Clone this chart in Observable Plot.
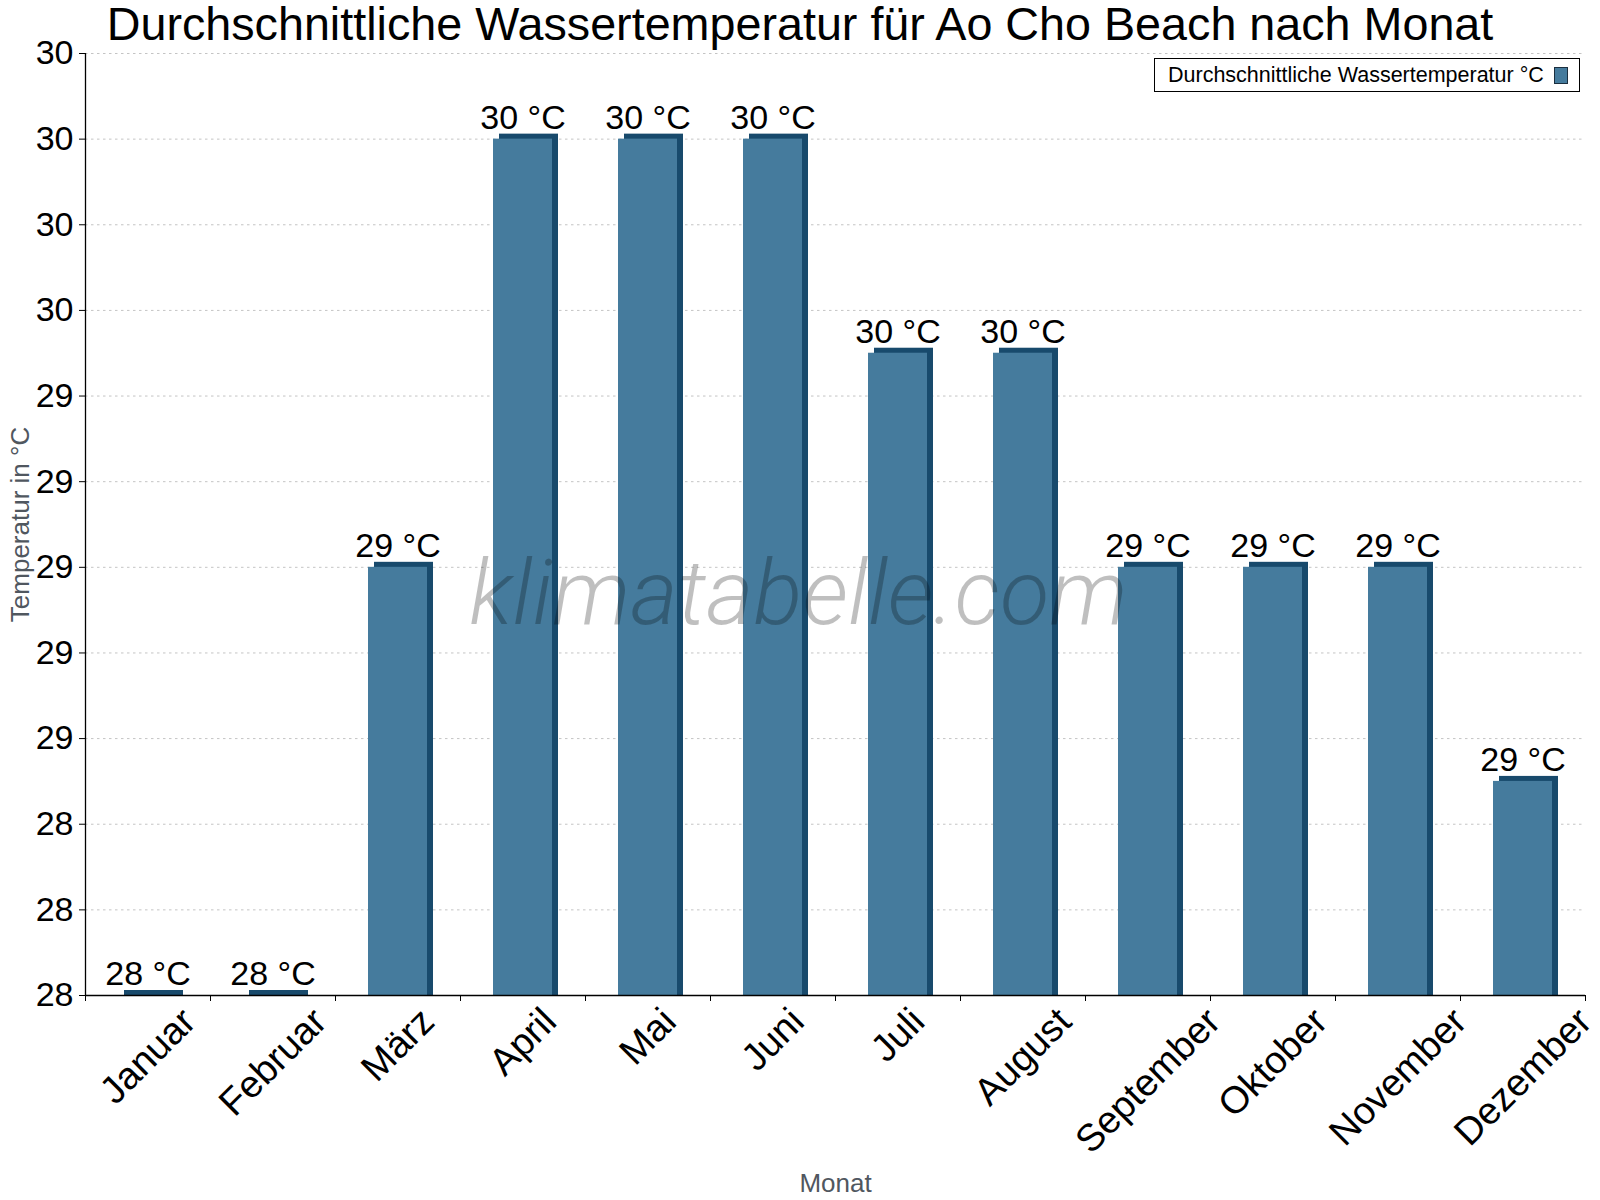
<!DOCTYPE html>
<html>
<head>
<meta charset="utf-8">
<script src="https://cdn.jsdelivr.net/npm/d3@7"></script>
<script src="https://cdn.jsdelivr.net/npm/@observablehq/plot@0.6"></script>
<style>
  html, body { margin: 0; padding: 0; background: #fff; }
  #wrap { position: relative; width: 1600px; height: 1200px; font-family: "Liberation Sans", Arial, sans-serif; }
  #title { position: absolute; left: 0; top: 0; width: 1600px; font-size: 46.7px; line-height: 49px; text-align: center; color: #000; white-space: nowrap; z-index: 2; }
  #chart { position: absolute; left: 0; top: 30px; }
  #legend { position: absolute; left: 1154px; top: 58px; width: 424px; height: 32px; border: 1.5px solid #000; background: #fff; box-sizing: content-box; z-index: 3; }
  #legend .lbl { position: absolute; left: 13px; top: 5px; font-size: 21.5px; line-height: 22px; color: #000; white-space: nowrap; }
  #legend .sw { position: absolute; left: 399px; top: 8px; width: 12px; height: 15px; background: #457b9d; border: 1.2px solid #1b2f3f; }
</style>
</head>
<body>
<div id="wrap">
  <div id="chart"></div>
  <div id="title">Durchschnittliche Wassertemperatur für Ao Cho Beach nach Monat</div>
  <div id="legend"><span class="lbl">Durchschnittliche Wassertemperatur °C</span><span class="sw"></span></div>
</div>
<script>
const months = ["Januar", "Februar", "März", "April", "Mai", "Juni", "Juli", "August", "September", "Oktober", "November", "Dezember"];
const temps = [28, 28, 29, 30, 30, 30, 29.5, 29.5, 29, 29, 29, 28.5];
const yTicks = [28, 28.2, 28.4, 28.6, 28.8, 29, 29.2, 29.4, 29.6, 29.8, 30, 30.2];
const yDomain = [28, 30.2];
const unit = " °C";
const yLabel = "Temperatur in °C";
const xLabel = "Monat";
const watermark = "klimatabelle.com";

const frontColor = "#457b9d";
const darkColor = "#184a6c";

const data = months.map((m, i) => ({month: m, temp: temps[i], label: Math.round(temps[i]) + unit}));

// measure month label widths for rotated placement
const canvas = document.createElement("canvas");
const ctx = canvas.getContext("2d");
const monthFont = 38;
ctx.font = `${monthFont}px "Liberation Sans", Arial, sans-serif`;
const capH = 0.716 * monthFont;

const monthMarks = months.map(m => {
  const w = ctx.measureText(m).width;
  return Plot.text([m], {
    x: d => d, frameAnchor: "bottom", text: d => d,
    rotate: -45, textAnchor: "middle", lineAnchor: "middle",
    dy: 10 + 0.354 * (w + capH), dx: 0,
    fontSize: monthFont, fill: "#000"
  });
});

const chart = Plot.plot({
  width: 1600,
  height: 1170,
  marginTop: 23,
  marginBottom: 205,
  marginLeft: 85,
  marginRight: 15,
  style: {fontFamily: '"Liberation Sans", Arial, sans-serif', background: "transparent", color: "#000", overflow: "visible"},
  x: {domain: months, padding: 0},
  y: {domain: yDomain},
  marks: [
    Plot.gridY(yTicks.slice(1), {stroke: "#c4c4c4", strokeOpacity: 1, strokeDasharray: "2.5,3.5"}),
    Plot.barY(data, {x: "month", y1: () => yDomain[0], y2: "temp", fill: darkColor, dx: 6, insetLeft: 33, insetRight: 33, insetTop: -5}),
    Plot.barY(data, {x: "month", y1: () => yDomain[0], y2: "temp", fill: frontColor, insetLeft: 33, insetRight: 33}),
    Plot.text(data, {x: "month", y: "temp", text: "label", lineAnchor: "middle", dy: -21, fontSize: 34, fill: "#000"}),
    Plot.ruleY([yDomain[0]], {stroke: "#000", strokeWidth: 1.3}),
    Plot.ruleX([months[0]], {dx: -62.5, y1: yDomain[0], y2: yDomain[1], stroke: "#000", strokeWidth: 1.3}),
    Plot.axisY({ticks: yTicks, tickSize: 6, tickPadding: 6, fontSize: 34, tickFormat: d => d.toFixed(0), label: null, stroke: "#000"}),
    Plot.axisX({ticks: months, tickSize: 6, dx: -62.5, tickFormat: () => "", label: null}),
    Plot.axisX({ticks: [months[months.length - 1]], tickSize: 6, dx: 62.5, tickFormat: () => "", label: null}),
    ...monthMarks,
    Plot.text([yLabel], {frameAnchor: "left", text: d => d, rotate: -90, dx: -65, fontSize: 26, fill: "#50575f", textAnchor: "middle", lineAnchor: "middle"}),
    Plot.text([xLabel], {frameAnchor: "bottom", text: d => d, dy: 188, fontSize: 26, fill: "#50575f", lineAnchor: "middle"}),
    Plot.text([watermark], {frameAnchor: "middle", text: d => d, dx: -37, dy: 70, fontSize: 91, fontFamily: "'Roboto Light', Roboto, sans-serif", fontStyle: "italic", fontWeight: 300, fill: "#000", fillOpacity: 0.25})
  ]
});
document.getElementById("chart").appendChild(chart);
</script>
</body>
</html>
